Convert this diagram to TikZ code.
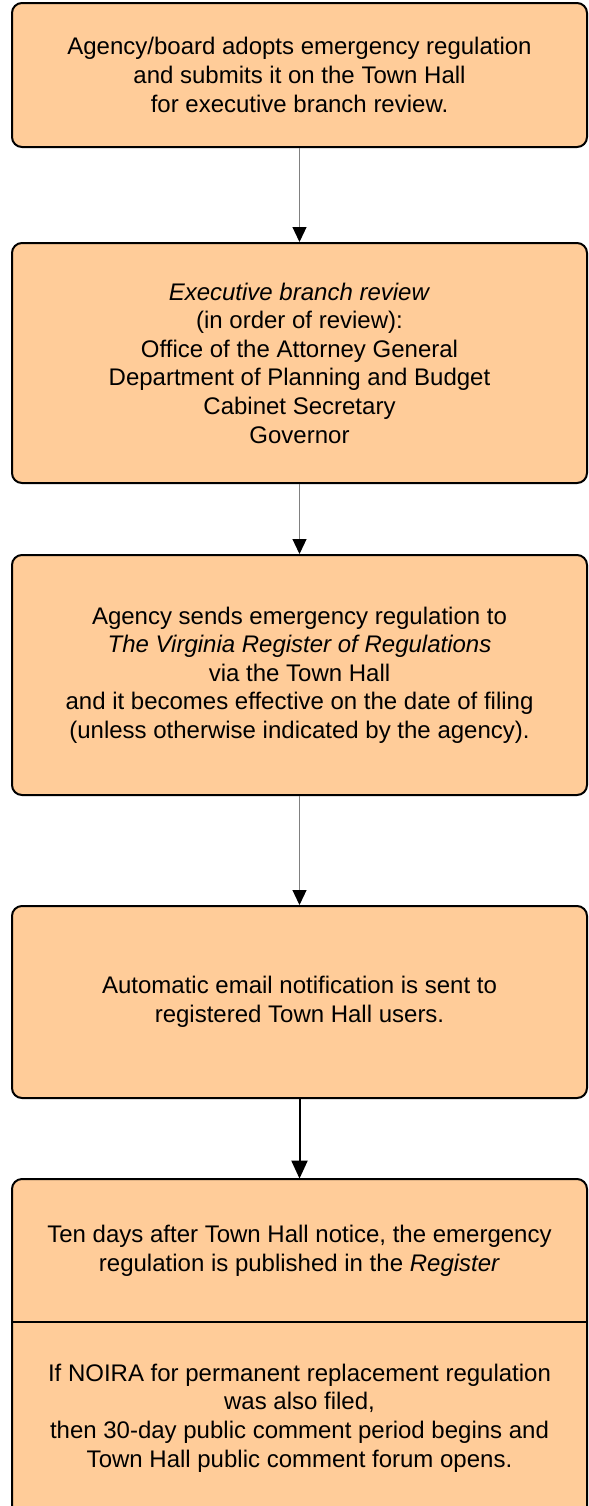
\documentclass[tikz,border=0pt]{standalone}
\usepackage{fontspec}
\setmainfont{Liberation Sans}
\usetikzlibrary{arrows.meta}
\definecolor{boxfill}{HTML}{FFCC99}
\definecolor{lgray}{HTML}{808080}
\tikzset{
  stepbox/.style={draw=black, line width=1pt, fill=boxfill, rounded corners=5pt,
    minimum width=287.5pt, inner sep=0pt, align=center,
    font=\fontsize{12}{14.3}\selectfont},
  plaintext/.style={inner sep=0pt, align=center, minimum width=287.5pt,
    font=\fontsize{12}{14.3}\selectfont},
  grayarrow/.style={draw=lgray, line width=0.6pt,
    -{Triangle[width=7pt,length=7.5pt,color=black,fill=black]}},
  blackarrow/.style={draw=black, line width=1pt,
    -{Triangle[width=8pt,length=9pt,color=black,fill=black]}}
}
\begin{document}
\begin{tikzpicture}[x=0.5pt,y=-0.5pt]
\clip (0,0) rectangle (589,1506);
\fill[white] (0,0) rectangle (589,1506);

\node[stepbox, minimum height=72pt] (b1) at (299.5,75)
  {Agency/board adopts emergency regulation\\and submits it on the Town Hall\\for executive branch review.};

\node[stepbox, minimum height=120pt] (b2) at (299.5,363)
  {\textit{Executive branch review}\\(in order of review):\\Office of the Attorney General\\Department of Planning and Budget\\Cabinet Secretary\\Governor};

\node[stepbox, minimum height=120pt] (b3) at (299.5,675)
  {Agency sends emergency regulation to\\\textit{The Virginia Register of Regulations}\\via the Town Hall\\and it becomes effective on the date of filing\\(unless otherwise indicated by the agency).};

\node[stepbox, minimum height=96pt] (b4) at (299.5,1002)
  {Automatic email notification is sent to\\registered Town Hall users.};

% bottom box, open at the bottom
\draw[line width=1pt, fill=boxfill, rounded corners=5pt]
  (12,1540) -- (12,1179) -- (587,1179) -- (587,1540);
\node[plaintext, minimum height=71.5pt] (b5) at (299.5,1250.5)
  {Ten days after Town Hall notice, the emergency\\regulation is published in the \textit{Register}};
\draw[line width=1pt] (b5.south west) -- (b5.south east);
\node[plaintext] (b6) at (299.5,1418)
  {If NOIRA for permanent replacement regulation\\was also filed,\\then 30-day public comment period begins and\\Town Hall public comment forum opens.};

\draw[grayarrow] (b1.south) -- (b2.north);
\draw[grayarrow] (b2.south) -- (b3.north);
\draw[grayarrow] (b3.south) -- (b4.north);
\draw[blackarrow] (b4.south) -- (b5.north);
\end{tikzpicture}
\end{document}
